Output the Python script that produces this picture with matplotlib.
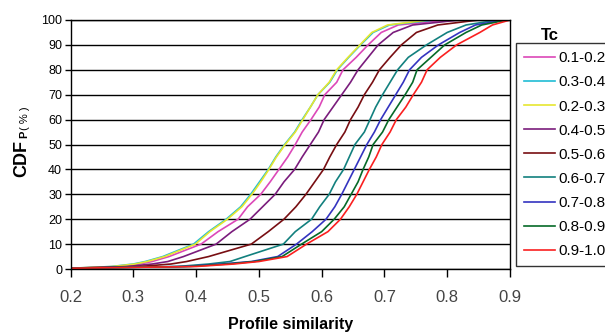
import matplotlib
matplotlib.use("Agg")
import matplotlib.pyplot as plt

plt.rcParams['font.family'] = ['Liberation Sans', 'DejaVu Sans']

# CDF levels (%) and the profile similarity where each curve reaches them
levels = [0.3, 1, 2, 3, 5, 10, 15, 20, 25, 30, 35, 40, 45, 50,
          55, 60, 65, 70, 75, 80, 85, 90, 95, 98, 100]

labels = ['0.1-0.2', '0.3-0.4', '0.2-0.3', '0.4-0.5', '0.5-0.6',
          '0.6-0.7', '0.7-0.8', '0.8-0.9', '0.9-1.0']

tc_01_02 = [0.2, 0.275, 0.31, 0.33, 0.357, 0.408, 0.435, 0.467, 0.482, 0.503, 0.518, 0.532, 0.546,
            0.558, 0.569, 0.583, 0.596, 0.605, 0.624, 0.634, 0.655, 0.674, 0.695, 0.722, 0.80]
tc_03_04 = [0.2, 0.265, 0.30, 0.319, 0.347, 0.396, 0.420, 0.448, 0.471, 0.487, 0.501, 0.515, 0.527,
            0.541, 0.557, 0.569, 0.582, 0.594, 0.613, 0.625, 0.643, 0.662, 0.682, 0.708, 0.78]
tc_02_03 = [0.2, 0.268, 0.303, 0.322, 0.35, 0.399, 0.422, 0.450, 0.473, 0.489, 0.503, 0.516, 0.528,
            0.542, 0.558, 0.570, 0.582, 0.594, 0.612, 0.624, 0.642, 0.661, 0.68, 0.705, 0.77]
tc_04_05 = [0.2, 0.29, 0.33, 0.355, 0.38, 0.432, 0.457, 0.486, 0.506, 0.526, 0.540, 0.557, 0.569,
            0.582, 0.595, 0.604, 0.618, 0.632, 0.646, 0.658, 0.674, 0.690, 0.714, 0.745, 0.82]
tc_05_06 = [0.2, 0.31, 0.36, 0.385, 0.42, 0.488, 0.515, 0.540, 0.559, 0.575, 0.589, 0.603, 0.613,
            0.624, 0.637, 0.646, 0.658, 0.668, 0.681, 0.692, 0.709, 0.727, 0.751, 0.785, 0.85]
tc_06_07 = [0.2, 0.37, 0.42, 0.454, 0.478, 0.539, 0.558, 0.584, 0.597, 0.612, 0.622, 0.635, 0.644,
            0.653, 0.668, 0.677, 0.686, 0.697, 0.709, 0.721, 0.738, 0.767, 0.80, 0.83, 0.88]
tc_07_08 = [0.2, 0.38, 0.44, 0.488, 0.53, 0.56, 0.585, 0.607, 0.621, 0.632, 0.642, 0.652, 0.662,
            0.672, 0.684, 0.694, 0.706, 0.718, 0.730, 0.740, 0.759, 0.786, 0.82, 0.845, 0.89]
tc_08_09 = [0.2, 0.39, 0.45, 0.493, 0.537, 0.568, 0.600, 0.620, 0.636, 0.647, 0.658, 0.666, 0.675,
            0.682, 0.697, 0.707, 0.720, 0.733, 0.745, 0.752, 0.774, 0.796, 0.83, 0.855, 0.895]
tc_09_10 = [0.2, 0.40, 0.46, 0.50, 0.545, 0.576, 0.610, 0.630, 0.644, 0.656, 0.666, 0.676, 0.687,
            0.696, 0.709, 0.719, 0.734, 0.746, 0.759, 0.768, 0.789, 0.815, 0.852, 0.872, 0.90]

series = [tc_01_02, tc_03_04, tc_02_03, tc_04_05, tc_05_06,
          tc_06_07, tc_07_08, tc_08_09, tc_09_10]
colors = ['#dc48b8', '#20bcd4', '#e6e630', '#7a1c7c', '#780e12',
          '#12807e', '#3434c0', '#066a28', '#fa2020']

fig = plt.figure(figsize=(6.05, 3.34), dpi=100)
ax = fig.add_axes([70.5 / 605, 1 - 269 / 334, (510 - 70.5) / 605, (269 - 20) / 334])

for xs, lab, col in zip(series, labels, colors):
    ax.plot(xs, levels, color=col, lw=1.2, label=lab)

ax.set_xlim(0.2, 0.9)
ax.set_ylim(0, 100)
ax.set_xticks([0.2, 0.3, 0.4, 0.5, 0.6, 0.7, 0.8, 0.9])
ax.set_yticks(range(0, 101, 10))
ax.set_xticklabels(['0.2', '0.3', '0.4', '0.5', '0.6', '0.7', '0.8', '0.9'])

# horizontal grid only, black like the original
ax.yaxis.grid(True, color='black', lw=1.0)
ax.set_axisbelow(True)
for s in ax.spines.values():
    s.set_color('black')
    s.set_linewidth(1.0)

ax.tick_params(axis='x', direction='out', length=6, width=1, labelsize=12,
               labelcolor='#444444', pad=9)
ax.tick_params(axis='y', direction='out', length=4, width=1, labelsize=9, pad=2)

ax.set_xlabel('Profile similarity', fontsize=11.5, fontweight='bold', labelpad=9)

# y label: bold CDF, small P, then (%)
fig.text(22 / 605, 1 - 158 / 334, 'CDF', rotation=90, fontsize=13,
         fontweight='bold', ha='center', va='center')
fig.text(24.5 / 605, 1 - 134 / 334, 'P', rotation=90, fontsize=8,
         fontweight='bold', ha='center', va='center')
fig.text(25 / 605, 1 - 118 / 334, '( % )', rotation=90, fontsize=8,
         ha='center', va='center')

leg = ax.legend(loc='upper left', bbox_to_anchor=(516 / 605, 1 - 43 / 334),
                bbox_transform=fig.transFigure, fontsize=11, frameon=True,
                fancybox=False, edgecolor='black', handlelength=2.0,
                handletextpad=0.25, borderpad=0.55, labelspacing=0.66,
                borderaxespad=0)
leg.get_frame().set_linewidth(1.0)
fig.text(550 / 605, 1 - 36 / 334, 'Tc', fontsize=12, fontweight='bold',
         ha='center', va='center')

fig.savefig('out.png', dpi=100)
